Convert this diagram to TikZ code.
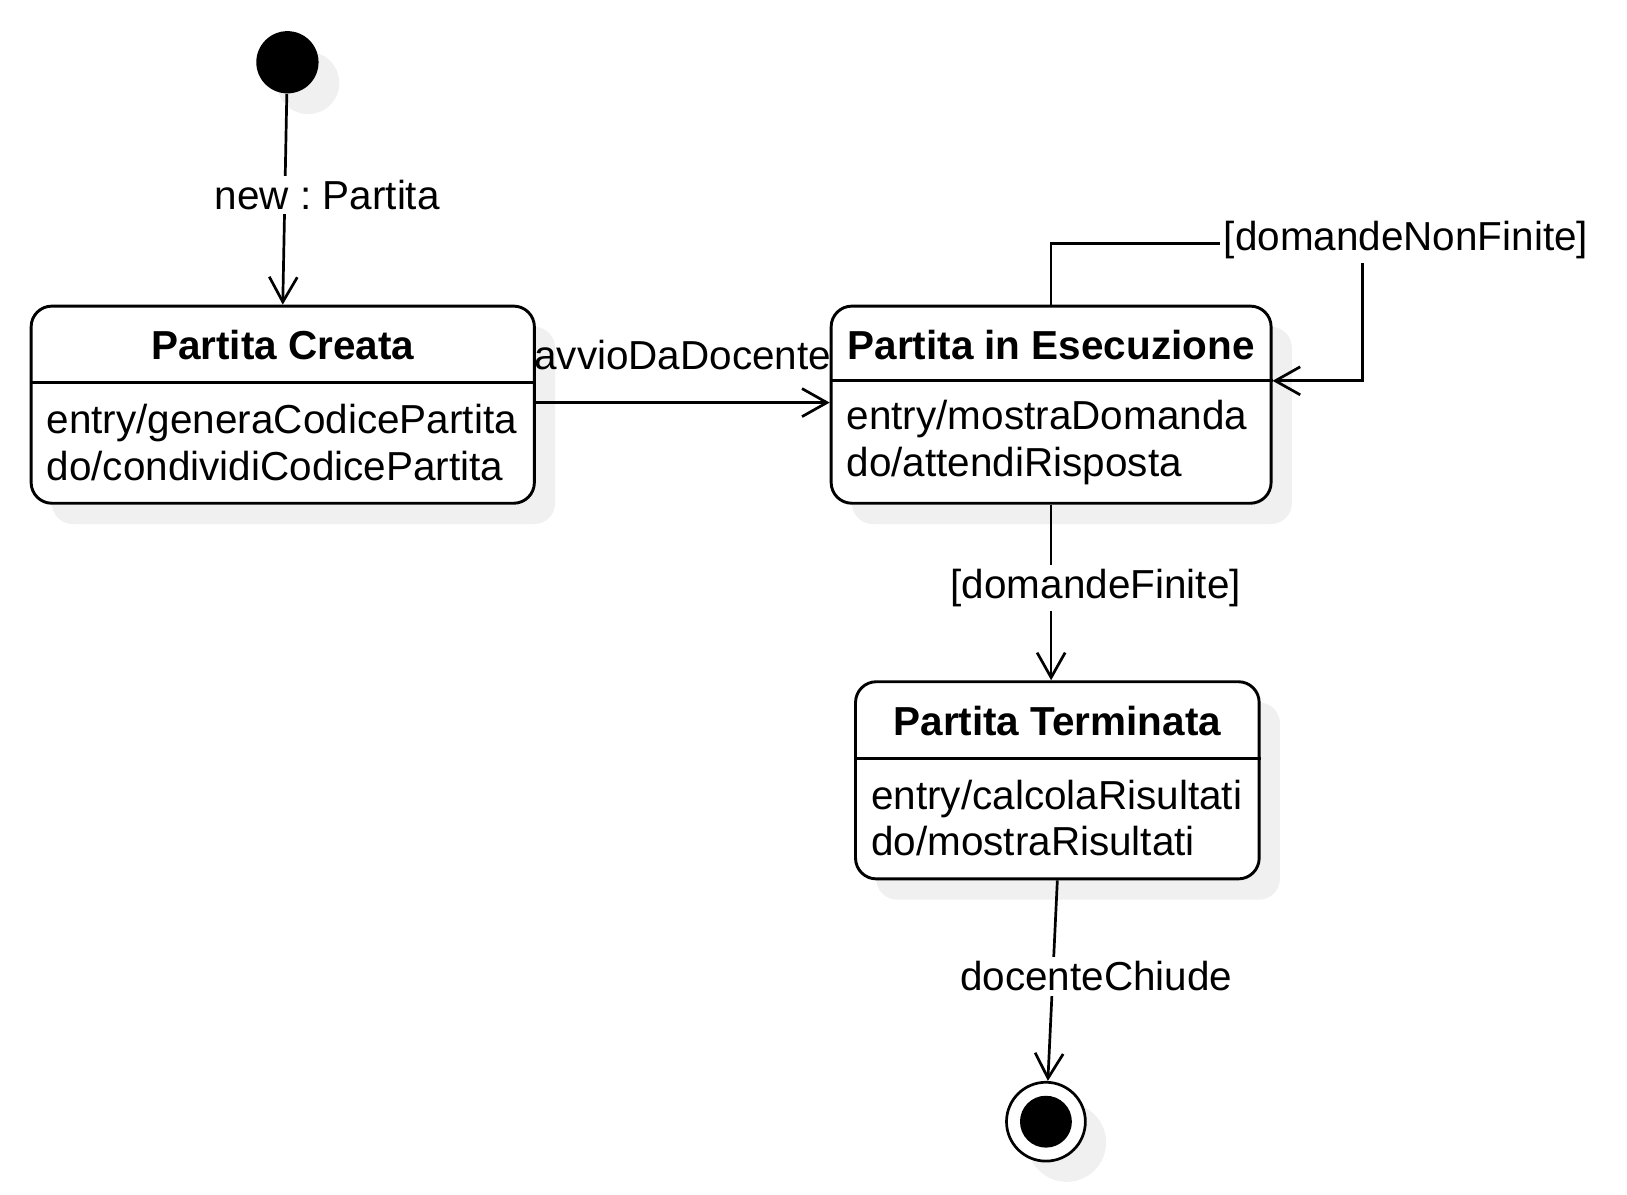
\documentclass[tikz,border=0pt]{standalone}
\usepackage{fontspec}
\setmainfont{Liberation Sans}
\usetikzlibrary{arrows.meta,shadows,calc}
\frenchspacing

\begin{document}
\begin{tikzpicture}[x=0.5pt, y=-0.5pt,
    font=\fontsize{19.5}{22.5}\selectfont,
    ghost/.style={drop shadow={shadow xshift=10pt, shadow yshift=-10pt, fill=black!6, opacity=1}},
    statebox/.style={draw, line width=1.4pt, rounded corners=10pt, fill=white, minimum height=95pt, ghost},
    statetitle/.style={font=\fontsize{19.5}{22.5}\selectfont\bfseries, inner sep=0pt},
    stateacts/.style={align=left, inner sep=0pt, anchor=west},
    trans/.style={line width=1.3pt, -{Straight Barb[length=12pt, width=13.5pt]}},
    lbl/.style={fill=white, inner sep=2pt}]
  \useasboundingbox (0,0) rectangle (1568,1151);

  \node[circle, fill, minimum size=30pt, inner sep=0pt, ghost] (init) at (277,60) {};
  \node[statebox, minimum width=242.5pt] (creata) at (272.5,390) {};
  \node[statebox, minimum width=212pt] (esec) at (1013,390) {};
  \node[statebox, minimum width=194.5pt] (term) at (1019,752) {};
  \node[circle, draw, line width=1.3pt, fill=white, minimum size=38pt, inner sep=0pt, ghost] (fine) at (1008,1081) {};
  \node[circle, fill, minimum size=25pt, inner sep=0pt] (fineint) at (fine) {};

  \foreach \s/\d in {creata/37.5pt, esec/36.5pt, term/37.5pt}
    \draw[line width=1.4pt] ([yshift=-\d]\s.north west) -- ([yshift=-\d]\s.north east);

  \node[statetitle] (creatat) at ([yshift=-19.5pt]creata.north) {Partita Creata};
  \node[statetitle] (esect) at ([yshift=-19.5pt]esec.north) {Partita in Esecuzione};
  \node[statetitle] (termt) at ([yshift=-19.5pt]term.north) {Partita Terminata};
  \node[stateacts] (creatab) at ([xshift=8pt, yshift=-18.25pt]creata.west)
    {entry/generaCodicePartita\\do/condividiCodicePartita};
  \node[stateacts] (esecb) at ([xshift=8pt, yshift=-18.25pt]esec.west)
    {entry/mostraDomanda\\do/attendiRisposta};
  \node[stateacts] (termb) at ([xshift=8pt, yshift=-18.25pt]term.west)
    {entry/calcolaRisultati\\do/mostraRisultati};

  \draw[trans] (init) -- (creata.north)
    node[lbl, midway, xshift=20.5pt, yshift=2pt] (lnew) {new : Partita};
  \draw[trans] (creata.east |- 0,388) -- (esec.west |- 0,388)
    node[lbl, fill=none, midway, yshift=23pt] (lavvio) {avvioDaDocente};
  \coordinate (loopc) at (1313,235);
  \draw[trans] (esec.north) |- (loopc) |- (esec.east |- 0,367);
  \node[lbl] (lnonfin) at (1355,231) {[domandeNonFinite]};
  \draw[trans] (esec.south) -- (esec.south |- term.north)
    node[lbl, midway, xshift=21.5pt, yshift=2pt] (lfin) {[domandeFinite]};
  \draw[trans] (term.south) -- (fine)
    node[lbl, midway, xshift=21pt, yshift=2pt] (lchiude) {docenteChiude};
\end{tikzpicture}
\end{document}
